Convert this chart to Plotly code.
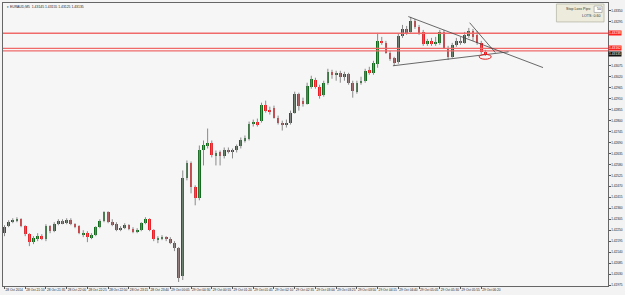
import plotly.graph_objects as go

# ---------------- data (prices in points, 1 point = 0.00001) ----------------
opens = [142235,142270,142290,142300,142305,142270,142230,142190,142210,142220,
         142205,142270,142245,142280,142295,142285,142300,142280,142270,142230,
         142235,142215,142225,142265,142295,142340,142290,142280,142250,142260,
         142275,142255,142245,142250,142285,142305,142250,142205,142210,142215,
         142205,142185,142160,142020,142510,142585,142465,142410,142650,142670,
         142690,142625,142640,142620,142650,142645,142650,142670,142700,142710,
         142785,142795,142800,142880,142850,142865,142815,142790,142780,142790,
         142840,142935,142900,142885,142970,143005,142970,142930,142990,143045,
         143030,143040,143020,143035,142990,142945,142990,143000,143055,143040,
         143085,143200,143190,143140,143115,143095,143225,143260,143245,143300,
         143270,143245,143185,143200,143185,143190,143245,143165,143120,143180,
         143200,143190,143225,143250,143230,143190,143145]
highs = [142275,142300,142310,142315,142310,142275,142235,142220,142235,142230,
         142280,142275,142290,142305,142305,142310,142310,142285,142275,142250,
         142245,142235,142270,142305,142345,142345,142305,142290,142270,142285,
         142280,142265,142260,142290,142315,142310,142255,142220,142225,142220,
         142215,142195,142165,142550,142600,142595,142475,142675,142700,142760,
         142700,142650,142650,142665,142665,142660,142680,142715,142725,142795,
         142805,142810,142890,142900,142870,142875,142825,142800,142805,142850,
         142945,142940,142915,142990,143025,143015,142980,143000,143060,143055,
         143050,143050,143045,143040,143000,143000,143020,143060,143070,143100,
         143240,143220,143200,143150,143120,143235,143280,143275,143320,143310,
         143280,143255,143210,143215,143220,143255,143255,143175,143190,143215,
         143220,143245,143265,143260,143250,143200,143155]
lows = [142220,142265,142285,142290,142265,142220,142170,142180,142195,142200,
        142195,142235,142240,142275,142280,142280,142275,142260,142230,142215,
        142190,142205,142220,142260,142290,142285,142270,142245,142245,142255,
        142250,142235,142235,142245,142280,142245,142195,142185,142200,142195,
        142180,142145,141990,142000,142500,142435,142375,142400,142575,142660,
        142615,142575,142575,142610,142635,142610,142640,142660,142690,142700,
        142770,142770,142790,142840,142830,142810,142780,142750,142765,142780,
        142835,142850,142870,142880,142960,142960,142910,142920,142980,143010,
        143000,142990,143000,142980,142915,142935,142980,142990,143030,143030,
        143065,143180,143135,143100,143075,143085,143215,143230,143240,143260,
        143230,143175,143175,143175,143175,143180,143160,143105,143115,143170,
        143180,143185,143215,143200,143180,143135,143125]
closes = [142265,142290,142300,142305,142270,142230,142190,142210,142220,142205,
          142270,142245,142280,142295,142285,142300,142280,142270,142235,142235,
          142215,142225,142265,142295,142340,142290,142280,142250,142260,142275,
          142255,142245,142250,142285,142305,142250,142205,142210,142215,142205,
          142185,142160,142010,142510,142585,142465,142410,142650,142680,142690,
          142625,142635,142620,142650,142645,142650,142670,142705,142715,142785,
          142795,142780,142880,142850,142845,142815,142790,142780,142790,142840,
          142935,142875,142885,142975,143010,142970,142925,142990,143045,143030,
          143040,143020,143035,142990,142950,142990,143000,143050,143040,143090,
          143200,143190,143140,143110,143090,143225,143260,143240,143300,143270,
          143240,143185,143200,143185,143195,143245,143165,143120,143180,143200,
          143190,143230,143250,143220,143190,143145,143135]

symbol = "EURAUD,M5"
time_labels = ["28 Oct 2014", "28 Oct 21:10", "28 Oct 21:35", "28 Oct 22:00",
               "28 Oct 22:25", "28 Oct 22:50", "28 Oct 23:15", "28 Oct 23:40",
               "29 Oct 00:05", "29 Oct 00:30", "29 Oct 00:55", "29 Oct 01:20",
               "29 Oct 01:45", "29 Oct 02:10", "29 Oct 02:35", "29 Oct 03:00",
               "29 Oct 03:25", "29 Oct 03:50", "29 Oct 04:15", "29 Oct 04:40",
               "29 Oct 05:05", "29 Oct 05:30", "29 Oct 05:55", "29 Oct 06:20"]
label_every = 5
price_ticks = [143350 - 55 * k for k in range(26)]

level_top = 143238          # red horizontal levels
level_mid = [143162, 143150]
# trend lines: (bar, price) pairs
trend_upper = [(97.4, 143322), (129.9, 143066)]
trend_second = [(112.2, 143291), (118.4, 143141)]
trend_lower = [(93.7, 143075), (121.6, 143145)]
ellipse = (114.5, 117.4, 143108, 143132)
stop_loss_pips = 50
lots = 0.60

P = 1e-5
o = [v * P for v in opens]; h = [v * P for v in highs]
l = [v * P for v in lows]; c = [v * P for v in closes]
n = len(o)
idx = list(range(n))

GREEN = "#136b1e"
RED = "#ee1b22"
WICK = "#8a8a8a"

fig = go.Figure()

wx, wy = [], []
for i in idx:
    wx += [i, i, None]
    wy += [l[i], h[i], None]
fig.add_trace(go.Scatter(x=wx, y=wy, mode="lines", line=dict(color=WICK, width=1),
                         hoverinfo="skip", showlegend=False))

base = [min(o[i], c[i]) for i in idx]
height = [max(abs(c[i] - o[i]), 0.6 * P) for i in idx]
cols = [GREEN if c[i] >= o[i] else RED for i in idx]
fig.add_trace(go.Bar(x=idx, y=height, base=base, width=0.66,
                     marker=dict(color=cols, line=dict(width=0)), showlegend=False))

x_min, x_max = -0.36, 145.57
y_min, y_max = 141970 * P, 143390 * P

shapes = []
for lv, w in [(level_top, 1.6)] + [(v, 1.2) for v in level_mid]:
    shapes.append(dict(type="line", xref="paper", x0=0, x1=1, yref="y",
                       y0=lv * P, y1=lv * P, line=dict(color="#f06a6a", width=w)))
for seg in (trend_upper, trend_second, trend_lower):
    shapes.append(dict(type="line", xref="x", yref="y", x0=seg[0][0], y0=seg[0][1] * P,
                       x1=seg[1][0], y1=seg[1][1] * P, line=dict(color="#444444", width=0.8)))
shapes.append(dict(type="circle", xref="x", yref="y", x0=ellipse[0], x1=ellipse[1],
                   y0=ellipse[2] * P, y1=ellipse[3] * P, line=dict(color="#e02020", width=1)))
# info panel
def px(xp):
    return (xp - 2) / 610
def py(yp):
    return 1 - (yp - 2) / 284
shapes.append(dict(type="rect", xref="paper", yref="paper", x0=px(560), x1=px(608),
                   y0=py(21), y1=py(3), fillcolor="#ecebdc", line=dict(color="#b8b8a8", width=0.8)))
shapes.append(dict(type="rect", xref="paper", yref="paper", x0=px(598), x1=px(606),
                   y0=py(11.5), y1=py(5), fillcolor="#ffffff", line=dict(color="#909090", width=0.6)))

ann = []
ann.append(dict(xref="paper", yref="paper", x=px(4), y=py(2.5), xanchor="left", yanchor="top",
                text="\u25be " + symbol + "  %.5f %.5f %.5f %.5f" % (o[-1], h[-1], l[-1], c[-1]),
                showarrow=False, font=dict(size=3.4, color="#222", family="Arial")))
ann.append(dict(xref="paper", yref="paper", x=px(597), y=py(8.3), xanchor="right", yanchor="middle",
                text="Stop Loss Pips:", showarrow=False, font=dict(size=3.6, color="#333", family="Arial")))
ann.append(dict(xref="paper", yref="paper", x=px(599), y=py(8.3), xanchor="left", yanchor="middle",
                text=str(stop_loss_pips), showarrow=False, font=dict(size=3.6, color="#333", family="Arial")))
ann.append(dict(xref="paper", yref="paper", x=px(606), y=py(15.5), xanchor="right", yanchor="middle",
                text="LOTS: %.2f" % lots, showarrow=False, font=dict(size=3.6, color="#333", family="Arial")))
marked = [(level_top, "#ff2020"), (level_mid[0], "#ff2020"), (closes[-1], "#111111")]
for val, bg in marked:
    ann.append(dict(xref="paper", yref="y", x=1.0, y=val * P, xanchor="left", yanchor="middle",
                    text="%.5f" % (val * P), showarrow=False, bgcolor=bg, borderpad=0,
                    font=dict(size=3.3, color="#ffffff", family="Arial")))

# price ticks hidden under the marked-level labels (as in the terminal)
shown_ticks = [t for t in price_ticks if all(abs(t - m[0]) > 27 for m in marked)]

fig.update_layout(
    width=625, height=295, margin=dict(l=2, r=13, t=2, b=9),
    paper_bgcolor="#f3f3f3", plot_bgcolor="#f6f6f6",
    bargap=0, barmode="overlay", shapes=shapes, annotations=ann, showlegend=False,
    xaxis=dict(range=[x_min, x_max], showgrid=False, zeroline=False,
               tickmode="array", tickvals=[k * label_every for k in range(len(time_labels))],
               ticktext=time_labels, ticks="outside", ticklen=2, tickcolor="#555", tickangle=0,
               ticklabelposition="outside right", tickfont=dict(size=3.2, color="#222", family="Arial"),
               showline=True, linecolor="#666", linewidth=1, mirror=True),
    yaxis=dict(range=[y_min, y_max], side="right", showgrid=False, zeroline=False,
               tickmode="array", tickvals=[t * P for t in shown_ticks],
               ticktext=["%.5f" % (t * P) for t in shown_ticks], ticks="outside", ticklen=1.5,
               tickcolor="#555", tickfont=dict(size=3.2, color="#222", family="Arial"),
               showline=True, linecolor="#666", linewidth=1, mirror=True),
)

fig.write_html("out.html")
